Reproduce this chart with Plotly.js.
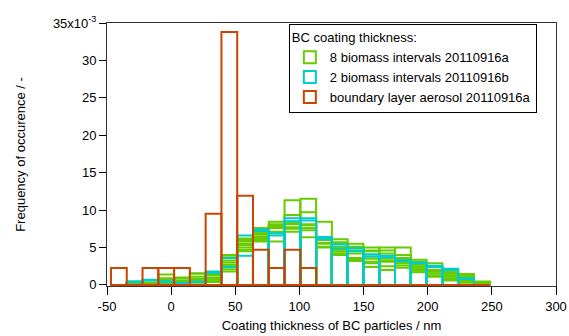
<!DOCTYPE html>
<html>
<head>
<meta charset="utf-8">
<script src="https://cdn.plot.ly/plotly-3.0.1.min.js"></script>
<style>html,body{margin:0;padding:0;background:#fff;}#chart{width:569px;height:336px;}</style>
</head>
<body>
<div id="chart"></div>
<script>
// Bin centres of coating thickness (nm), bin width 12.3 nm
const binCenters = [-40.75, -28.45, -16.15, -3.85, 8.45, 20.75, 33.05, 45.35, 57.65, 69.95, 82.25, 94.55,
  106.85, 119.15, 131.45, 143.75, 156.05, 168.35, 180.65, 192.95, 205.25, 217.55, 229.85, 242.15];
const binWidth = 12.3;

// Frequency of occurrence, in units of 1e-3
const green1 = [0, 0.3, 0.3, 1.4, 1.0, 1.55, 1.35, 4.0, 6.2, 7.6, 8.45, 11.3, 11.5, 8.45, 6.1, 5.5, 5.0, 5.0, 5.0, 3.35, 2.9, 1.9, 1.47, 0.45];
const green2 = [0, 0.25, 0.3, 0.9, 0.9, 1.5, 1.3, 3.9, 6.0, 7.1, 8.1, 9.35, 9.7, 6.3, 5.7, 5.1, 4.6, 4.6, 4.0, 3.1, 2.5, 1.7, 1.3, 0.4];
const green3 = [0, 0.2, 0.25, 0.8, 0.6, 1.1, 1.0, 3.25, 5.8, 6.9, 8.0, 8.45, 8.1, 6.2, 5.55, 4.9, 4.5, 4.2, 3.6, 2.7, 2.4, 1.5, 1.1, 0.3];
const green4 = [0, 0.2, 0.2, 0.6, 0.55, 0.8, 0.9, 3.0, 5.5, 6.7, 7.8, 8.2, 8.0, 6.0, 5.1, 4.6, 3.8, 3.6, 3.4, 2.45, 2.0, 1.3, 0.9, 0.25];
const green5 = [0, 0.15, 0.2, 0.5, 0.4, 0.7, 0.7, 2.7, 5.3, 6.4, 7.6, 8.1, 7.65, 5.6, 4.7, 4.2, 3.5, 3.3, 3.1, 2.3, 1.8, 1.1, 0.7, 0.2];
const green6 = [0, 0.1, 0.15, 0.3, 0.3, 0.5, 0.6, 2.5, 5.0, 6.2, 7.1, 7.7, 7.6, 5.5, 4.45, 3.6, 3.1, 3.1, 2.9, 2.1, 1.55, 0.9, 0.6, 0.15];
const green7 = [0, 0.1, 0.1, 0.25, 0.25, 0.4, 0.5, 2.1, 4.7, 6.0, 6.9, 7.5, 7.3, 5.1, 4.2, 3.4, 2.9, 2.5, 2.6, 1.9, 1.3, 0.75, 0.4, 0.1];
const green8 = [0, 0, 0.1, 0.2, 0.2, 0.3, 0.4, 1.8, 4.5, 5.8, 5.8, 7.1, 6.35, 5.0, 4.0, 3.2, 2.4, 2.0, 2.3, 1.7, 1.1, 0.6, 0.3, 0.05];
const cyan1 = [0, 0.5, 0.7, 0.5, 0.3, 0.45, 1.8, 3.6, 6.6, 7.4, 6.9, 8.9, 8.9, 6.4, 5.4, 4.9, 4.1, 3.9, 3.3, 3.0, 2.55, 2.15, 0.9, 0];
const cyan2 = [0, 0.4, 0.6, 0.4, 0.25, 0.4, 1.6, 2.4, 3.9, 7.2, 6.6, 8.5, 8.6, 6.1, 4.9, 4.5, 3.8, 3.7, 3.2, 2.9, 2.4, 2.0, 0.8, 0];
const boundary = [2.25, 0, 2.25, 2.25, 2.25, 0, 9.5, 33.8, 11.9, 4.7, 2.25, 4.7, 2.25, 0, 0, 0, 0, 0, 0, 0, 0, 0, 0, 0];

const greenSeries = [green1, green2, green3, green4, green5, green6, green7, green8];
const cyanSeries = [cyan1, cyan2];

const GREEN = '#66cc00', CYAN = '#00cccc', ORANGE = '#cc4400';
const legendNames = ['8 biomass intervals 20110916a', '2 biomass intervals 20110916b', 'boundary layer aerosol 20110916a'];

function barTrace(y, color, name, show, group) {
  return {
    type: 'bar', x: binCenters, y: y, width: binWidth,
    marker: {color: 'rgba(255,255,255,0)', line: {color: color, width: 2}},
    name: name, showlegend: show, legendgroup: group, hoverinfo: 'skip'
  };
}

const traces = [];
greenSeries.forEach((s, i) => traces.push(barTrace(s, GREEN, legendNames[0], i === 0, 'g')));
cyanSeries.forEach((s, i) => traces.push(barTrace(s, CYAN, legendNames[1], i === 0, 'c')));
traces.push(barTrace(boundary, ORANGE, legendNames[2], true, 'o'));

const yTickVals = [0, 5, 10, 15, 20, 25, 30, 35];
const yTickText = ['0', '5', '10', '15', '20', '25', '30', '35x10<sup>-3</sup>'];
const xTickVals = [-50, 0, 50, 100, 150, 200, 250, 300];
const xTickText = ['-50', '0', '50', '100', '150', '200', '250', '300'];

const layout = {
  width: 569, height: 336,
  margin: {l: 107, r: 13, t: 23, b: 50},
  paper_bgcolor: '#fff', plot_bgcolor: '#fff',
  font: {family: 'Arial, Liberation Sans, sans-serif', size: 13, color: '#000'},
  barmode: 'overlay', bargap: 0,
  showlegend: true,
  legend: {
    x: 0.405, xanchor: 'left', y: 0.995, yanchor: 'top',
    bgcolor: '#fff', bordercolor: '#000', borderwidth: 1,
    font: {size: 13}, tracegroupgap: 0, traceorder: 'normal',
    title: {text: 'BC coating thickness:', font: {size: 13}},
    itemwidth: 30
  },
  xaxis: {
    range: [-50, 300], tickvals: xTickVals, ticktext: xTickText, ticks: 'outside', ticklen: 8, tickcolor: '#000',
    showgrid: false, zeroline: false, showline: true, linecolor: '#333', linewidth: 1, mirror: true,
    title: {text: 'Coating thickness of BC particles / nm', font: {size: 13}, standoff: 8},
    tickfont: {size: 13}
  },
  yaxis: {
    range: [-0.15, 35], tickvals: yTickVals, ticktext: yTickText, ticks: 'outside', ticklen: 7, tickcolor: '#000',
    showgrid: false, zeroline: false, showline: true, linecolor: '#333', linewidth: 1, mirror: true,
    title: {text: 'Frequency of occurence / -', font: {size: 13}, standoff: 24},
    tickfont: {size: 13}
  }
};

Plotly.newPlot('chart', traces, layout, {staticPlot: true});
</script>
</body>
</html>
